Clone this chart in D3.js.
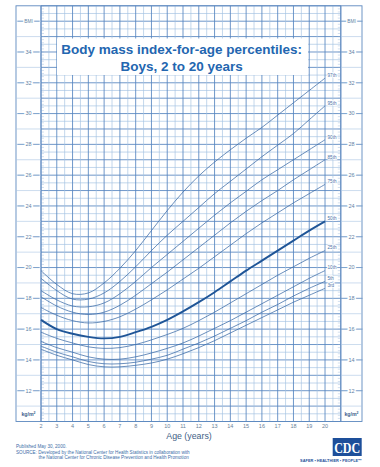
<!DOCTYPE html>
<html>
<head>
<meta charset="utf-8">
<script src="https://cdn.jsdelivr.net/npm/d3@7"></script>
<style>
  body { margin: 0; background: #fff; }
  svg { display: block; font-family: "Liberation Sans", Arial, sans-serif; }
</style>
</head>
<body>
<svg id="chart"></svg>
<script>
// ages the curves are sampled at (years)
const ages = [2, 3, 4, 5, 6, 7, 8, 9, 10, 11, 12, 13, 14, 15, 16, 17, 18, 19, 20];

// BMI percentile values
const p3  = [14.7, 14.3, 14.0, 13.7, 13.55, 13.55, 13.65, 13.8, 14.05, 14.4, 14.8, 15.25, 15.75, 16.25, 16.75, 17.25, 17.75, 18.2, 18.65];
const p5  = [14.9, 14.5, 14.2, 13.9, 13.75, 13.75, 13.85, 14.05, 14.3, 14.7, 15.1, 15.55, 16.05, 16.55, 17.1, 17.6, 18.15, 18.65, 19.1];
const p10 = [15.2, 14.8, 14.5, 14.2, 14.05, 14.05, 14.2, 14.45, 14.75, 15.1, 15.55, 16.05, 16.55, 17.1, 17.65, 18.2, 18.75, 19.3, 19.8];
const p25 = [15.8, 15.4, 15.1, 14.85, 14.75, 14.8, 15.0, 15.3, 15.65, 16.05, 16.55, 17.1, 17.7, 18.3, 18.9, 19.5, 20.05, 20.6, 21.1];
const p50 = [16.6, 16.0, 15.7, 15.5, 15.4, 15.5, 15.8, 16.15, 16.6, 17.15, 17.75, 18.4, 19.1, 19.8, 20.45, 21.1, 21.75, 22.4, 23.0];
const p75 = [17.4, 16.9, 16.55, 16.4, 16.5, 16.8, 17.3, 17.9, 18.55, 19.25, 19.95, 20.7, 21.45, 22.2, 22.9, 23.55, 24.2, 24.8, 25.4];
const p85 = [18.1, 17.5, 17.1, 16.95, 17.1, 17.55, 18.2, 18.95, 19.7, 20.5, 21.3, 22.1, 22.9, 23.65, 24.35, 25.0, 25.7, 26.35, 27.0];
const p90 = [18.5, 17.9, 17.5, 17.45, 17.7, 18.3, 19.1, 20.0, 20.85, 21.7, 22.55, 23.4, 24.2, 24.95, 25.7, 26.35, 27.0, 27.65, 28.3];
const p95 = [19.3, 18.5, 17.95, 17.95, 18.35, 19.1, 20.05, 21.1, 22.1, 23.0, 23.9, 24.8, 25.6, 26.4, 27.2, 27.95, 28.7, 29.6, 30.5];
const p97 = [19.8, 18.9, 18.3, 18.35, 19.0, 19.95, 21.1, 22.4, 23.7, 24.9, 25.95, 26.85, 27.65, 28.4, 29.1, 29.9, 30.7, 31.5, 32.3];

const percentiles = [
  { name: '3rd', values: p3 },
  { name: '5th', values: p5 },
  { name: '10th', values: p10 },
  { name: '25th', values: p25 },
  { name: '50th', values: p50 },
  { name: '75th', values: p75 },
  { name: '85th', values: p85 },
  { name: '90th', values: p90 },
  { name: '95th', values: p95 },
  { name: '97th', values: p97 }
];

const ageTicks = d3.range(2, 21);
const bmiTicks = d3.range(12, 35, 2);

const width = 380;
const height = 467;

const lineBlue = '#3a6aa6';
const darkBlue = '#1f5597';

const svg = d3.select('svg#chart')
    .attr('width', width)
    .attr('height', height);

const x = d3.scaleLinear().domain([2, 21]).range([41, 340.8]);
const y = d3.scaleLinear().domain([10, 37]).range([421.5, 5.8]);

const frameLeft = 16;
const frameRight = 362;

// grid
const grid = svg.append('g').attr('class', 'grid');

grid.selectAll('line.h')
    .data(d3.range(10, 37.01, 0.5))
    .join('line')
    .attr('x1', x(2))
    .attr('x2', x(21))
    .attr('y1', d => y(d))
    .attr('y2', d => y(d))
    .attr('stroke', d => d % 1 === 0 ? '#5584bf' : '#a3c1e2')
    .attr('stroke-width', d => d % 1 === 0 ? 0.85 : 0.65);

grid.selectAll('line.v')
    .data(d3.range(2, 21.01, 0.5))
    .join('line')
    .attr('y1', y(10))
    .attr('y2', y(37))
    .attr('x1', d => x(d))
    .attr('x2', d => x(d))
    .attr('stroke', d => d % 1 === 0 ? '#5584bf' : '#a3c1e2')
    .attr('stroke-width', d => d % 1 === 0 ? 0.85 : 0.65);

// small ruler ticks inside the left and right edges
const ruler = d3.range(10, 37.01, 0.2);
[[x(2), 3], [x(21), -3]].forEach(([x0, len]) => {
    svg.append('g').selectAll('line')
        .data(ruler)
        .join('line')
        .attr('x1', x0)
        .attr('x2', x0 + len)
        .attr('y1', d => y(d))
        .attr('y2', d => y(d))
        .attr('stroke', '#8fb0d6')
        .attr('stroke-width', 0.4);
});

// side columns and frame
const frame = svg.append('g').attr('fill', 'none').attr('stroke', '#5d89bf').attr('stroke-width', 0.9);
frame.append('rect')
    .attr('x', frameLeft).attr('y', y(37))
    .attr('width', frameRight - frameLeft).attr('height', y(10) - y(37));
frame.append('line').attr('x1', x(2)).attr('x2', x(2)).attr('y1', y(37)).attr('y2', y(10));
frame.append('line').attr('x1', x(21)).attr('x2', x(21)).attr('y1', y(37)).attr('y2', y(10));

[[frameLeft, x(2)], [x(21), frameRight]].forEach(([x1, x2]) => {
    svg.append('g').selectAll('line')
        .data(d3.range(11, 37))
        .join('line')
        .attr('x1', x1).attr('x2', x2)
        .attr('y1', d => y(d)).attr('y2', d => y(d))
        .attr('stroke', '#a9c4e2')
        .attr('stroke-width', 0.6);
});

// y axis labels on both sides
[28.5, 351.5].forEach(cx => {
    const g = svg.append('g');
    g.selectAll('line')
        .data(bmiTicks.concat([36]))
        .join('line')
        .attr('x1', cx - 11).attr('x2', cx + 11)
        .attr('y1', d => y(d)).attr('y2', d => y(d))
        .attr('stroke', '#5d89bf')
        .attr('stroke-width', 0.7);
    g.selectAll('text')
        .data(bmiTicks)
        .join('text')
        .attr('x', cx)
        .attr('y', d => y(d))
        .attr('dy', '0.35em')
        .attr('text-anchor', 'middle')
        .attr('font-size', 5.5)
        .attr('fill', '#5f7fa6')
        .attr('stroke', '#fff')
        .attr('stroke-width', 3)
        .attr('paint-order', 'stroke')
        .text(d => d);
    g.append('text')
        .attr('x', cx).attr('y', y(36)).attr('dy', '0.35em')
        .attr('text-anchor', 'middle')
        .attr('font-size', 4.8)
        .attr('fill', '#5f7fa6')
        .attr('stroke', '#fff').attr('stroke-width', 3).attr('paint-order', 'stroke')
        .text('BMI');
    g.append('text')
        .attr('x', cx).attr('y', y(10.5)).attr('dy', '0.35em')
        .attr('text-anchor', 'middle')
        .attr('font-size', 5.2)
        .attr('font-weight', 'bold')
        .attr('fill', '#3d5f8c')
        .html('kg/m<tspan dy="-2" font-size="3.5">2</tspan>');
});

// title box
svg.append('rect')
    .attr('x', 57).attr('y', 38.5)
    .attr('width', 251).attr('height', 36.5)
    .attr('fill', '#fff');
const title = svg.append('text')
    .attr('x', 181.7)
    .attr('text-anchor', 'middle')
    .attr('font-size', 13.5)
    .attr('font-weight', 'bold')
    .attr('fill', '#2366b0');
title.append('tspan').attr('x', 181.7).attr('y', 54.3).text('Body mass index-for-age percentiles:');
title.append('tspan').attr('x', 181.7).attr('y', 70.5).text('Boys, 2 to 20 years');

// percentile curves
const line = d3.line()
    .x((d, i) => x(ages[i]))
    .y(d => y(d))
    .curve(d3.curveCatmullRom.alpha(0.5));

svg.append('g')
    .selectAll('path')
    .data(percentiles)
    .join('path')
    .attr('d', d => line(d.values))
    .attr('fill', 'none')
    .attr('stroke', d => d.name === '50th' ? darkBlue : lineBlue)
    .attr('stroke-width', d => d.name === '50th' ? 1.9 : 0.75);

svg.append('g')
    .selectAll('text')
    .data(percentiles)
    .join('text')
    .attr('x', x(20) + 2.5)
    .attr('y', d => y(d.values[d.values.length - 1]) - 1.2)
    .attr('font-size', 4.6)
    .attr('fill', '#4a73a8')
    .attr('stroke', '#fff')
    .attr('stroke-width', 1.6)
    .attr('paint-order', 'stroke')
    .text(d => d.name);

// x axis labels
svg.append('g')
    .selectAll('text')
    .data(ageTicks)
    .join('text')
    .attr('x', d => x(d))
    .attr('y', 428)
    .attr('text-anchor', 'middle')
    .attr('font-size', 5.5)
    .attr('fill', '#6a7f99')
    .text(d => d);

svg.append('text')
    .attr('x', 189)
    .attr('y', 438.5)
    .attr('text-anchor', 'middle')
    .attr('font-size', 8.8)
    .attr('fill', '#3f5f86')
    .text('Age (years)');

// footer
const foot = svg.append('g').attr('font-size', 4.6).attr('fill', '#3e6ea8');
foot.append('text').attr('x', 16).attr('y', 447.5).text('Published May 30, 2000.');
foot.append('text').attr('x', 16).attr('y', 453.5)
    .text('SOURCE: Developed by the National Center for Health Statistics in collaboration with');
foot.append('text').attr('x', 38.6).attr('y', 459)
    .text('the National Center for Chronic Disease Prevention and Health Promotion');

// CDC mark
svg.append('rect')
    .attr('x', 332.7).attr('y', 438)
    .attr('width', 29).attr('height', 18)
    .attr('fill', '#1d4f9a');
svg.append('text')
    .attr('x', 347.2).attr('y', 452.5)
    .attr('text-anchor', 'middle')
    .attr('font-family', '"Liberation Serif", serif')
    .attr('font-weight', 'bold')
    .attr('font-size', 14)
    .attr('fill', '#fff')
    .attr('textLength', 26)
    .attr('lengthAdjust', 'spacingAndGlyphs')
    .text('CDC');
svg.append('text')
    .attr('x', 362).attr('y', 461.5)
    .attr('text-anchor', 'end')
    .attr('font-size', 3.9)
    .attr('font-weight', 'bold')
    .attr('fill', '#1d4f9a')
    .text('SAFER \u2022 HEALTHIER \u2022 PEOPLE\u2122');
</script>
</body>
</html>
